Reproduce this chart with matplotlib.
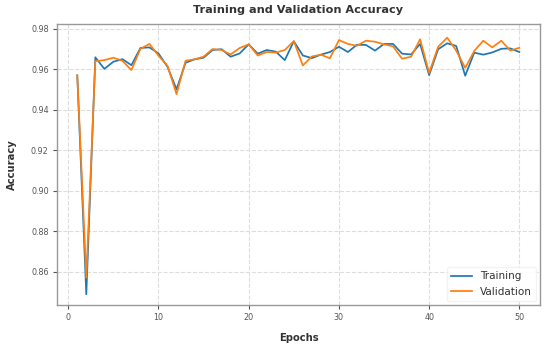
import numpy as np
import matplotlib.pyplot as plt

epochs = list(range(1, 51))
train_acc = [0.9570, 0.8490, 0.9660, 0.9603, 0.9638, 0.9651, 0.9621, 0.9706, 0.9709, 0.9679,
             0.9613, 0.9502, 0.9633, 0.9650, 0.9658, 0.9696, 0.9700, 0.9663, 0.9679, 0.9724,
             0.9678, 0.9696, 0.9688, 0.9646, 0.9739, 0.9669, 0.9656, 0.9673, 0.9686, 0.9712,
             0.9686, 0.9722, 0.9721, 0.9693, 0.9726, 0.9726, 0.9678, 0.9674, 0.9726, 0.9572,
             0.9700, 0.9729, 0.9716, 0.9569, 0.9683, 0.9673, 0.9684, 0.9702, 0.9704, 0.9686]
val_acc = [0.9572, 0.8572, 0.9641, 0.9646, 0.9658, 0.9643, 0.9597, 0.9702, 0.9726, 0.9668,
           0.9618, 0.9478, 0.9643, 0.9650, 0.9663, 0.9701, 0.9696, 0.9674, 0.9706, 0.9724,
           0.9669, 0.9686, 0.9683, 0.9696, 0.9740, 0.9620, 0.9664, 0.9673, 0.9655, 0.9745,
           0.9726, 0.9717, 0.9742, 0.9737, 0.9724, 0.9714, 0.9653, 0.9663, 0.9749, 0.9583,
           0.9712, 0.9757, 0.9693, 0.9608, 0.9691, 0.9742, 0.9709, 0.9742, 0.9693, 0.9707]

fig = plt.figure(figsize=(5.5, 3.48), dpi=100)
ax = fig.add_axes([0.1036, 0.1236, 0.8784, 0.8066])

ax.plot(epochs, train_acc, color='tab:blue', lw=1.25, label='Training')
ax.plot(epochs, val_acc, color='tab:orange', lw=1.25, label='Validation')

ax.set_xlim(-1.25, 52.3)
ax.set_ylim(0.8437, 0.9823)

ax.set_title('Training and Validation Accuracy', fontsize=8.1, fontweight='bold', color='#333333', pad=8)
ax.set_xlabel('Epochs', fontsize=7.2, fontweight='bold', color='#333333', labelpad=8)
ax.set_ylabel('Accuracy', fontsize=7.2, fontweight='bold', color='#333333', labelpad=10)

ax.set_xticks([0, 10, 20, 30, 40, 50])
ax.set_yticks([0.86, 0.88, 0.90, 0.92, 0.94, 0.96, 0.98])
ax.tick_params(labelsize=5.8, colors='#555555', length=3, width=0.8, pad=3)
ax.grid(True, linestyle='--', color='#dddddd', linewidth=0.8)

for s in ax.spines.values():
    s.set_color('#999999')
    s.set_linewidth(1.0)

leg = ax.legend(loc='lower right', fontsize=7.5, framealpha=0.9, borderaxespad=0.4)
leg.get_frame().set_edgecolor('#f2f2f2')
for t in leg.get_texts():
    t.set_color('#333333')

fig.savefig('out.png', dpi=100)
